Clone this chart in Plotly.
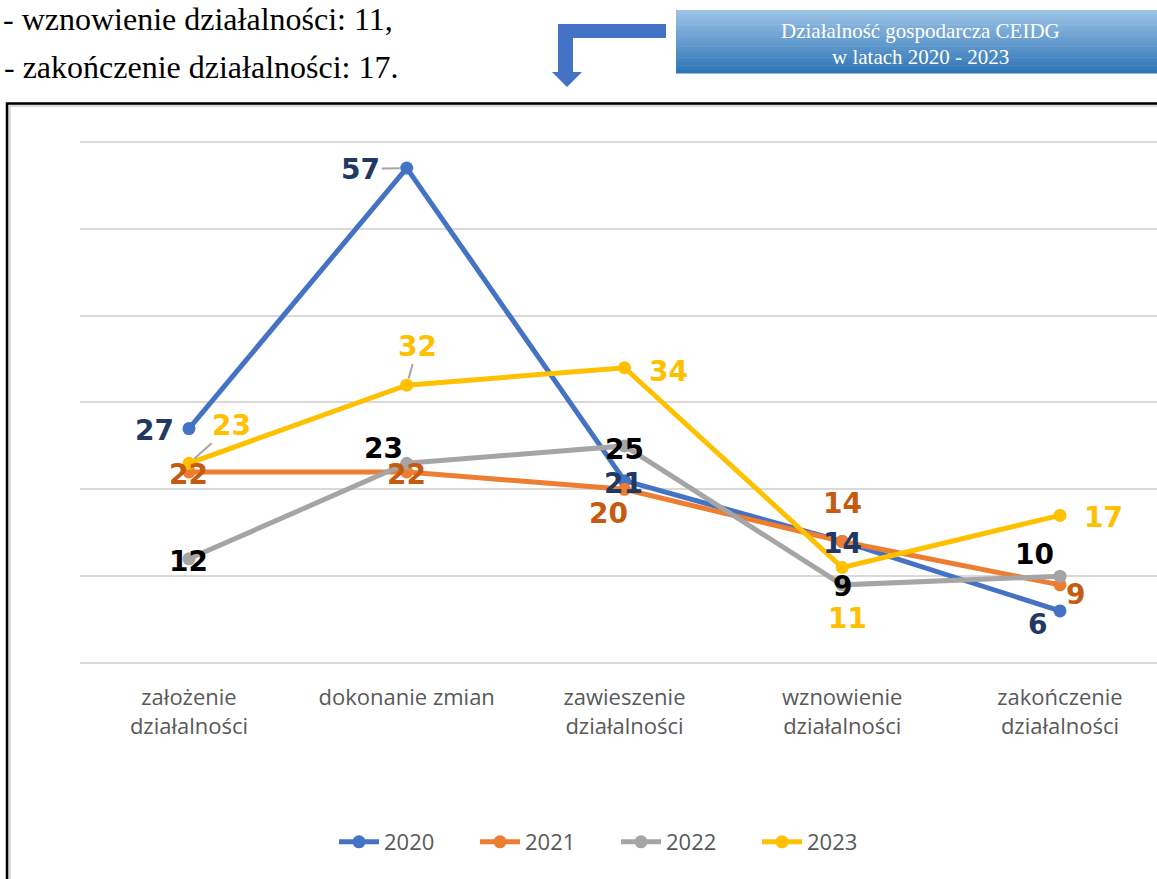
import plotly.graph_objects as go

# ---- data -------------------------------------------------------------
categories = [
    "założenie<br>działalności",
    "dokonanie zmian",
    "zawieszenie<br>działalności",
    "wznowienie<br>działalności",
    "zakończenie<br>działalności",
]
years = ["2020", "2021", "2022", "2023"]
values_2020 = [27, 57, 21, 14, 6]
values_2021 = [22, 22, 20, 14, 9]
values_2022 = [12, 23, 25, 9, 10]
values_2023 = [23, 32, 34, 11, 17]
series = [values_2020, values_2021, values_2022, values_2023]

line_colors = ["#4472C4", "#ED7D31", "#A5A5A5", "#FFC000"]
label_colors = ["#1F3864", "#C55A11", "#000000", "#FFC000"]

# data-label placement: pixel offset of the label from its point, leader flag
label_offsets = [
    [(-34, 2, False), (-46, 1, True), (-1, 3, False), (0, 2, False), (-22, 14, False)],
    [(0, 3, False), (0, 3, False), (-16, 24, False), (0, -38, False), (16, 10, False)],
    [(0, 3, False), (-23, -15, False), (0, 4, False), (0, 2, False), (-25, -22, False)],
    [(43, -38, True), (11, -39, True), (44, 4, False), (5, 51, False), (44, 2, False)],
]

header_lines = ["- wznowienie działalności: 11,", "- zakończenie działalności: 17."]
box_lines = ["Działalność gospodarcza CEIDG", "w latach 2020 - 2023"]

# ---- page geometry ----------------------------------------------------
W, H = 1157, 879


def px(x):
    return x / W


def py(y):
    return 1 - y / H


fig = go.Figure()

for name, vals, col in zip(years, series, line_colors):
    fig.add_trace(go.Scatter(
        x=categories, y=vals, name=name, mode="lines+markers",
        line=dict(color=col, width=5),
        marker=dict(color=col, size=13),
        cliponaxis=False,
    ))

annotations = []
for vals, lcol, offs in zip(series, label_colors, label_offsets):
    for cat, v, (dx, dy, leader) in zip(categories, vals, offs):
        annotations.append(dict(
            x=cat, y=v, xref="x", yref="y", text=str(v),
            showarrow=True, ax=dx, ay=dy, arrowhead=0, arrowwidth=2,
            arrowcolor="#A6A6A6" if leader else "rgba(0,0,0,0)",
            standoff=7, startstandoff=0,
            font=dict(family="DejaVu Sans", size=28, color=lcol, weight="bold"),
        ))

# text above the chart
annotations.append(dict(
    x=px(2), y=1, xref="paper", yref="paper",
    xanchor="left", yanchor="top", borderpad=0, text=header_lines[0], showarrow=False,
    font=dict(family="Liberation Serif", size=32, color="#000000"),
))
annotations.append(dict(
    x=px(2), y=py(67), xref="paper", yref="paper",
    xanchor="left", yanchor="middle", text=header_lines[1], showarrow=False,
    font=dict(family="Liberation Serif", size=32, color="#000000"),
))

# caption box text
for i, t in enumerate(box_lines):
    annotations.append(dict(
        x=px(920), y=py(31 + 26 * i), xref="paper", yref="paper",
        xanchor="center", yanchor="middle", text=t, showarrow=False,
        font=dict(family="Liberation Serif", size=21, color="#FFFFFF"),
    ))

shapes = []
# caption box with vertical gradient
top_rgb, bot_rgb = (157, 195, 230), (46, 117, 182)
box_top, box_bot, n_strips = 10, 73, 40
for k in range(n_strips):
    t = k / (n_strips - 1)
    r, g, b = [round(a + (c - a) * t) for a, c in zip(top_rgb, bot_rgb)]
    y0 = box_top + (box_bot - box_top) * k / n_strips
    y1 = box_top + (box_bot - box_top) * (k + 1) / n_strips
    shapes.append(dict(type="rect", xref="paper", yref="paper",
                       x0=px(676), x1=px(1165), y0=py(y0), y1=py(y1 + 0.6),
                       line=dict(width=0), fillcolor=f"rgb({r},{g},{b})", layer="below"))

# bent arrow pointing down to the chart
arrow_path = (
    f"M {px(666)},{py(24)} L {px(558)},{py(24)} L {px(558)},{py(72)} "
    f"L {px(552)},{py(72)} L {px(567)},{py(87)} L {px(582)},{py(72)} "
    f"L {px(573)},{py(72)} L {px(573)},{py(38)} L {px(666)},{py(38)} Z"
)
shapes.append(dict(type="path", xref="paper", yref="paper", path=arrow_path,
                   fillcolor="#4472C4", line=dict(width=0)))

# chart frame: soft inner shadow plus black border
shapes.append(dict(type="rect", xref="paper", yref="paper",
                   x0=px(9.5), x1=px(1200), y0=py(105.5), y1=py(950),
                   line=dict(color="#DADADA", width=3), fillcolor="rgba(0,0,0,0)"))
shapes.append(dict(type="rect", xref="paper", yref="paper",
                   x0=px(7), x1=px(1200), y0=py(103.5), y1=py(950),
                   line=dict(color="#000000", width=2.5), fillcolor="rgba(0,0,0,0)"))

# value axis: 0..60 maps onto pixel rows 663..142; extra headroom keeps the top gridline
y_top_val = 61.5
px_per_unit = (663 - 142) / 60

fig.update_layout(
    width=W, height=H,
    margin=dict(l=0, r=0, t=0, b=0),
    paper_bgcolor="white", plot_bgcolor="white",
    showlegend=True,
    legend=dict(
        orientation="h", x=px(616), xanchor="center", y=py(842), yanchor="middle",
        font=dict(family="Open Sans", size=22, color="#595959"),
        entrywidth=86, entrywidthmode="pixels", itemwidth=40,
        bgcolor="rgba(0,0,0,0)",
    ),
    xaxis=dict(
        type="category", domain=[px(80.1), 1], range=[-0.5, 4.4455],
        showgrid=False, showline=False, zeroline=False, ticks="",
        tickfont=dict(family="Open Sans", size=22, color="#595959"),
        ticklabelstandoff=19,
    ),
    yaxis=dict(
        domain=[py(663), py(663 - y_top_val * px_per_unit)], range=[0, y_top_val],
        tickmode="linear", tick0=0, dtick=10,
        showgrid=True, gridcolor="#D9D9D9", gridwidth=2,
        zeroline=True, zerolinecolor="#D9D9D9", zerolinewidth=2,
        showticklabels=False, ticks="", showline=False,
    ),
    annotations=annotations,
    shapes=shapes,
)

fig.write_html("out.html")
